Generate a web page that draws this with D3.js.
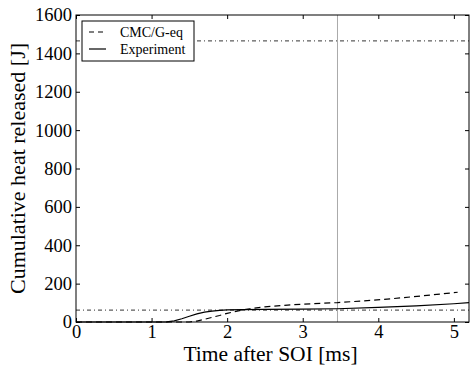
<!DOCTYPE html>
<html>
<head>
<meta charset="utf-8">
<script src="https://cdn.jsdelivr.net/npm/d3@7"></script>
<style>
  body { margin: 0; background: #fff; }
</style>
</head>
<body>
<div id="chart"></div>
<script>
// data
let timeExp = [0, 1.0, 1.2, 1.3, 1.4, 1.5, 1.6, 1.7, 1.8, 1.9, 2.0, 2.2, 2.5, 3.0, 3.46, 4.0, 4.5, 5.0, 5.2];
let heatExp = [0, 0, 1, 6, 17, 30, 42, 51, 57, 61, 63, 65, 66, 67, 69, 76, 84, 95, 101];

let timeCmc = [0, 1.4, 1.5, 1.6, 1.7, 1.8, 1.9, 2.0, 2.1, 2.2, 2.3, 2.5, 2.8, 3.0, 3.46, 3.8, 4.2, 4.6, 5.05];
let heatCmc = [0, 0, 0, 5, 14, 24, 34, 45, 54, 62, 69, 79, 88, 93, 101, 110, 122, 137, 155];

let refLevels = [1465, 62];
let markTime = 3.46;

let xTicks = [0, 1, 2, 3, 4, 5];
let yTicks = [0, 200, 400, 600, 800, 1000, 1200, 1400, 1600];
let legendNames = ["CMC/G-eq", "Experiment"];

let serif = '"Liberation Serif", "Times New Roman", serif';

let margin = { top: 15, left: 76, right: 1, bottom: 47 },
  width = 470 - margin.left - margin.right,
  height = 369 - margin.top - margin.bottom;

let svg = d3.select('#chart')
  .append('svg')
  .attr('width', 470)
  .attr('height', 369)
  .attr('font-family', serif);

let g = svg.append('g')
  .attr('transform', 'translate(' + margin.left + ',' + margin.top + ')');

let x = d3.scaleLinear().domain([0, 5.2]).range([0, width]);
let y = d3.scaleLinear().domain([0, 1600]).range([height, 0]);

// reference lines
refLevels.forEach(function(v) {
  g.append('line')
    .attr('x1', 0).attr('x2', width)
    .attr('y1', y(v)).attr('y2', y(v))
    .attr('stroke', '#333')
    .attr('stroke-width', 1)
    .attr('stroke-dasharray', '4,3,1,3');
});

g.append('line')
  .attr('x1', x(markTime)).attr('x2', x(markTime))
  .attr('y1', 0).attr('y2', height)
  .attr('stroke', '#aaa')
  .attr('stroke-width', 1);

let line = d3.line().x(d => x(d[0])).y(d => y(d[1]));

g.append('path')
  .datum(d3.zip(timeCmc, heatCmc))
  .attr('d', line)
  .attr('fill', 'none')
  .attr('stroke', '#000')
  .attr('stroke-width', 1.2)
  .attr('stroke-dasharray', '6,4');

g.append('path')
  .datum(d3.zip(timeExp, heatExp))
  .attr('d', line)
  .attr('fill', 'none')
  .attr('stroke', '#000')
  .attr('stroke-width', 1.2);

// axes, ticks pointing inward on all sides
let fmt = d3.format('d');
let bottomAxis = g.append('g')
  .attr('transform', 'translate(0,' + height + ')')
  .call(d3.axisBottom(x).tickValues(xTicks).tickFormat(fmt).tickSizeInner(-4).tickSizeOuter(0).tickPadding(3));
let leftAxis = g.append('g')
  .call(d3.axisLeft(y).tickValues(yTicks).tickFormat(fmt).tickSizeInner(-4).tickSizeOuter(0).tickPadding(4));
let topAxis = g.append('g')
  .call(d3.axisTop(x).tickValues(xTicks).tickFormat('').tickSizeInner(-4).tickSizeOuter(0));
let rightAxis = g.append('g')
  .attr('transform', 'translate(' + width + ',0)')
  .call(d3.axisRight(y).tickValues(yTicks).tickFormat('').tickSizeInner(-4).tickSizeOuter(0));

[bottomAxis, leftAxis, topAxis, rightAxis].forEach(function(a) {
  a.attr('font-family', serif).attr('font-size', 18.5);
  a.select('.domain').remove();
  a.selectAll('text').attr('fill', '#000');
  a.selectAll('line').attr('stroke', '#000');
});

g.append('rect')
  .attr('width', width).attr('height', height)
  .attr('fill', 'none').attr('stroke', '#000').attr('stroke-width', 1);

// labels
svg.append('text')
  .attr('x', margin.left + width / 2 - 2)
  .attr('y', 361)
  .attr('text-anchor', 'middle')
  .attr('font-size', 21.5)
  .text('Time after SOI [ms]');

svg.append('text')
  .attr('transform', 'translate(25,' + (margin.top + height / 2) + ') rotate(-90)')
  .attr('text-anchor', 'middle')
  .attr('font-size', 22)
  .text('Cumulative heat released [J]');

// legend
let lg = svg.append('g').attr('transform', 'translate(82,21)');
lg.append('rect')
  .attr('width', 112).attr('height', 40)
  .attr('fill', '#fff').attr('stroke', '#000').attr('stroke-width', 1);
legendNames.forEach(function(name, i) {
  lg.append('line')
    .attr('x1', 7).attr('x2', 24)
    .attr('y1', 11 + i * 17).attr('y2', 11 + i * 17)
    .attr('stroke', '#000').attr('stroke-width', 1.2)
    .attr('stroke-dasharray', i === 0 ? '5,4' : null);
  lg.append('text')
    .attr('x', 38).attr('y', 15.5 + i * 17)
    .attr('font-size', 14)
    .text(name);
});
</script>
</body>
</html>
